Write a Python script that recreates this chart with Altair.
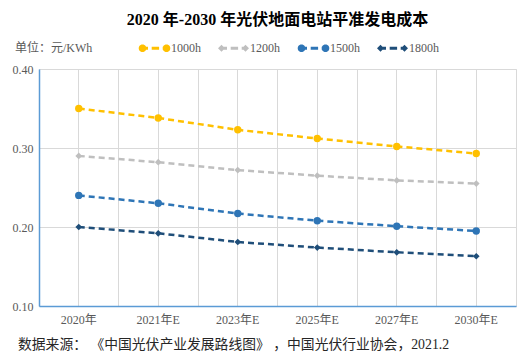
import math
import altair as alt
import pandas as pd

# ---- data ----
categories = ["2020年", "2021年E", "2023年E", "2025年E", "2027年E", "2030年E"]
series = ["1000h", "1200h", "1500h", "1800h"]
v1000 = [0.350, 0.338, 0.323, 0.312, 0.302, 0.293]
v1200 = [0.290, 0.282, 0.272, 0.265, 0.259, 0.255]
v1500 = [0.240, 0.230, 0.217, 0.208, 0.201, 0.195]
v1800 = [0.200, 0.192, 0.181, 0.174, 0.168, 0.163]
y_ticks = [0.10, 0.20, 0.30, 0.40]
title_text = ["2020 年-2030 年光伏地面电站平准发电成本"]
unit_text = ["单位：元/KWh"]
source_text = ["数据来源： 《中国光伏产业发展路线图》 ，中国光伏行业协会，2021.2"]

# ---- styles ----
colors = ["#FFC000", "#BFBFBF", "#2E75B6", "#1F4E79"]
circle_series = ["1000h", "1500h"]
diamond_series = ["1200h", "1800h"]
SERIF = "Liberation Serif, Noto Sans CJK SC, serif"
GRID = "#D9D9D9"
AXIS_BLUE = "#5B9BD5"
TEXT_GRAY = "#595959"

values = {"1000h": v1000, "1200h": v1200, "1500h": v1500, "1800h": v1800}
rows = []
for s in series:
    for c, v in zip(categories, values[s]):
        rows.append({"year": c, "series": s, "value": v})
df = pd.DataFrame(rows)

# legend symbols: marker - dash - marker drawn as one filled path (unit box = 31px)
U = 15.5
def circ(cx, r, n=24):
    pts = [(cx + r * math.cos(2 * math.pi * k / n), r * math.sin(2 * math.pi * k / n)) for k in range(n)]
    return "M" + "L".join(f"{x:.3f},{y:.3f}" for x, y in pts) + "Z"
def diam(cx, d):
    return f"M{cx - d:.3f},0L{cx:.3f},{-d:.3f}L{cx + d:.3f},0L{cx:.3f},{d:.3f}Z"
def rect(x1, x2, t):
    return f"M{x1:.3f},{-t:.3f}L{x2:.3f},{-t:.3f}L{x2:.3f},{t:.3f}L{x1:.3f},{t:.3f}Z"
cxl, cxr = -12.0 / U, 12.0 / U
t = 1.4 / U
dashes = rect(-12.0 / U, -6.5 / U, t) + rect(-2.8 / U, 4.6 / U, t) + rect(8.2 / U, 12.0 / U, t)
leg_circle = circ(cxl, 3.8 / U) + dashes + circ(cxr, 3.8 / U)
leg_diamond = diam(cxl, 3.5 / U) + dashes + diam(cxr, 3.5 / U)
leg_shapes = [leg_circle if s in circle_series else leg_diamond for s in series]

# series sort alphabetically in the same order as `series`
color_scale = alt.Scale(range=colors)

y_enc = alt.Y(
    "value:Q",
    scale=alt.Scale(domain=[0.1, 0.4], nice=False, zero=False),
    axis=alt.Axis(
        title=None, values=y_ticks, format=".2f", ticks=False,
        labelPadding=6, labelFont=SERIF, labelFontSize=12, labelColor=TEXT_GRAY,
        domainColor=AXIS_BLUE, domainWidth=1.5, gridColor=GRID, gridWidth=1,
    ),
)
x_scale = alt.Scale(type="band", domain=categories, paddingInner=0, paddingOuter=0)

def x_enc(axis):
    return alt.X("year:O", sort=categories, scale=x_scale, axis=axis)

bottom_axis = alt.Axis(
    title=None, labelAngle=0, ticks=False, bandPosition=0.5, grid=True,
    gridColor=GRID, gridWidth=1, labelPadding=8, labelFont=SERIF,
    labelFontSize=12, labelColor=TEXT_GRAY, domainColor=AXIS_BLUE, domainWidth=1.5,
)
top_axis = alt.Axis(
    title=None, orient="top", labels=False, ticks=False, domain=False,
    grid=True, bandPosition=0, gridColor=GRID, gridWidth=1,
)

base = alt.Chart(df)

lines = base.mark_line(strokeWidth=2.5, strokeDash=[6, 4]).encode(
    x=x_enc(bottom_axis), y=y_enc,
    color=alt.Color("series:N", scale=color_scale, legend=None),
    detail="series:N",
)
circles = base.transform_filter(
    alt.FieldOneOfPredicate(field="series", oneOf=circle_series)
).mark_point(shape="circle", filled=True, size=55, opacity=1).encode(
    x=x_enc(top_axis), y=y_enc,
    color=alt.Color("series:N", scale=color_scale, legend=None),
)
diamonds = base.transform_filter(
    alt.FieldOneOfPredicate(field="series", oneOf=diamond_series)
).mark_point(shape="diamond", filled=True, size=45, opacity=1).encode(
    x=x_enc(None), y=y_enc,
    color=alt.Color("series:N", scale=color_scale, legend=None),
)
# legend-only layer (no rows drawn); fill + shape scales feed one custom legend
legend_layer = base.transform_filter("false").mark_point(filled=True, opacity=1).encode(
    x=x_enc(None), y=y_enc,
    fill=alt.Fill(
        "series:N", scale=alt.Scale(domain=series, range=colors),
        legend=alt.Legend(
            title=None, orient="none", direction="horizontal",
            legendX=100, legendY=-36.5, symbolSize=961, symbolStrokeWidth=0,
            symbolOpacity=1,
            labelFont=SERIF, labelFontSize=12, labelColor=TEXT_GRAY,
            labelOffset=1, columnPadding=17, padding=0,
        ),
    ),
    shape=alt.Shape("series:N", scale=alt.Scale(domain=series, range=leg_shapes)),
)

title = alt.Chart(pd.DataFrame({"t": title_text})).mark_text(
    align="center", baseline="middle", font=SERIF, fontSize=16, fontWeight="bold",
    color="#000000"
).encode(text="t:N", x=alt.value(238.5), y=alt.value(-49))

unit = alt.Chart(pd.DataFrame({"t": unit_text})).mark_text(
    align="left", baseline="middle", font=SERIF, fontSize=12, color=TEXT_GRAY
).encode(text="t:N", x=alt.value(-24), y=alt.value(-21))

source = alt.Chart(pd.DataFrame({"t": source_text})).mark_text(
    align="left", baseline="middle", font=SERIF, fontSize=13.8, color="#262626"
).encode(text="t:N", x=alt.value(-21), y=alt.value(276))

chart = alt.layer(
    lines, circles, diamonds, legend_layer, title, unit, source
).resolve_axis(x="independent").properties(
    width=477, height=237,
    padding={"left": 31, "top": 61, "right": 6, "bottom": 47},
    autosize=alt.AutoSizeParams(type="none"),
).configure_view(stroke=GRID, strokeWidth=1)

chart.save("out.html", embed_options={"renderer": "svg", "actions": False})
